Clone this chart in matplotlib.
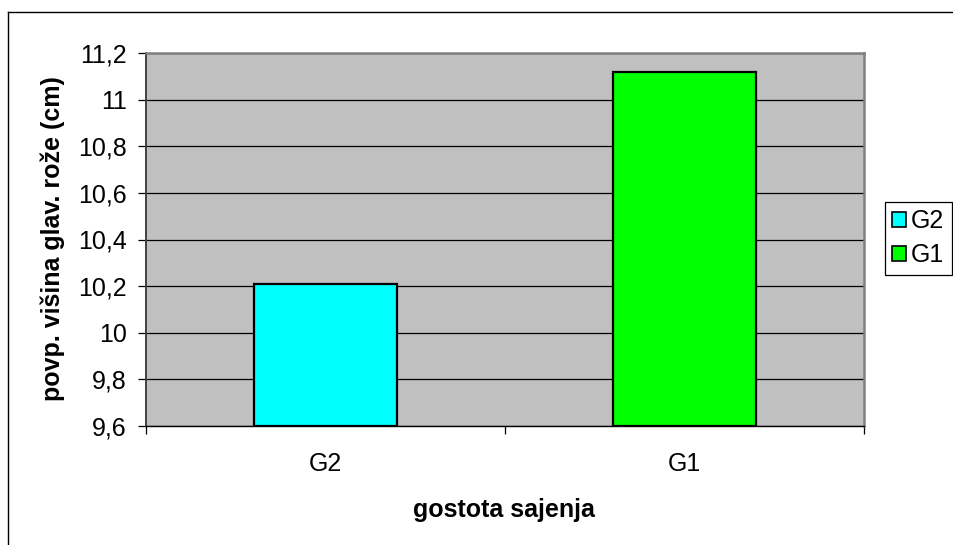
import matplotlib
matplotlib.use("Agg")
import matplotlib.pyplot as plt
from matplotlib.lines import Line2D
from matplotlib.patches import Patch

plt.rcParams['font.family'] = ['Liberation Sans', 'DejaVu Sans']

# Data
categories = ["G2", "G1"]
values = [10.21, 11.12]
colors = ["#00FFFF", "#00FF00"]
y_ticks = [9.6, 9.8, 10.0, 10.2, 10.4, 10.6, 10.8, 11.0, 11.2]
y_tick_labels = ["9,6", "9,8", "10", "10,2", "10,4", "10,6", "10,8", "11", "11,2"]
x_title = "gostota sajenja"
y_title = "povp. višina glav. rože (cm)"

W, H = 954, 545
FS = 18
fig = plt.figure(figsize=(W / 100, H / 100), dpi=100)
fig.patch.set_facecolor("white")

ax = fig.add_axes([146 / W, 1 - 426 / H, (864 - 146) / W, (426 - 53) / H])
ax.set_facecolor("#C0C0C0")

x = list(range(len(categories)))
ax.bar(x, [v - y_ticks[0] for v in values], bottom=y_ticks[0], width=0.4,
       color=colors, edgecolor="black", linewidth=1.6, zorder=3)

ax.set_xlim(-0.5, len(categories) - 0.5)
ax.set_ylim(y_ticks[0], y_ticks[-1])

# horizontal gridlines
ax.set_yticks(y_ticks)
ax.set_yticklabels(y_tick_labels, fontsize=FS)
ax.yaxis.grid(True, color="black", linewidth=0.9, zorder=1)
ax.set_axisbelow(True)

# category boundaries carry the ticks, centres carry the labels
ax.set_xticks([i - 0.5 for i in range(len(categories) + 1)])
ax.set_xticklabels([])
ax.set_xticks(x, minor=True)
ax.set_xticklabels(categories, minor=True, fontsize=FS)
ax.tick_params(axis="x", which="minor", length=0, pad=19)
ax.tick_params(axis="x", which="major", length=6, width=0.9, direction="out", color="black")
ax.tick_params(axis="y", length=6, width=0.9, direction="out", pad=8, color="black")

for s in ["top", "right"]:
    ax.spines[s].set_color("#808080")
    ax.spines[s].set_linewidth(1.8)
ax.spines["left"].set_color("#404040")
ax.spines["left"].set_linewidth(1.4)
ax.spines["bottom"].set_color("black")
ax.spines["bottom"].set_linewidth(1.0)

fig.text(504 / W, 1 - 517 / H, x_title, ha="center", va="baseline",
         fontsize=FS, fontweight="bold")
fig.text(53 / W, 1 - 239 / H, y_title, ha="center", va="center", rotation=90,
         fontsize=FS, fontweight="bold")

handles = [Patch(facecolor=c, edgecolor="black", linewidth=1.2) for c in colors]
leg = fig.legend(handles, categories, loc="upper left",
                 bbox_to_anchor=(885 / W, 1 - 202 / H), fontsize=FS,
                 frameon=True, fancybox=False, framealpha=1, edgecolor="black",
                 handlelength=0.55, handleheight=0.55, handletextpad=0.2,
                 borderpad=0.3, labelspacing=0.4, borderaxespad=0)
leg.get_frame().set_linewidth(0.9)

# outer chart border (left and top edges within the canvas)
fig.add_artist(Line2D([8 / W, 8 / W], [0, 1 - 11.5 / H], transform=fig.transFigure,
                      color="black", linewidth=1.0))
fig.add_artist(Line2D([8 / W, 1], [1 - 11.5 / H, 1 - 11.5 / H], transform=fig.transFigure,
                      color="black", linewidth=1.0))

fig.savefig("out.png", dpi=100)
